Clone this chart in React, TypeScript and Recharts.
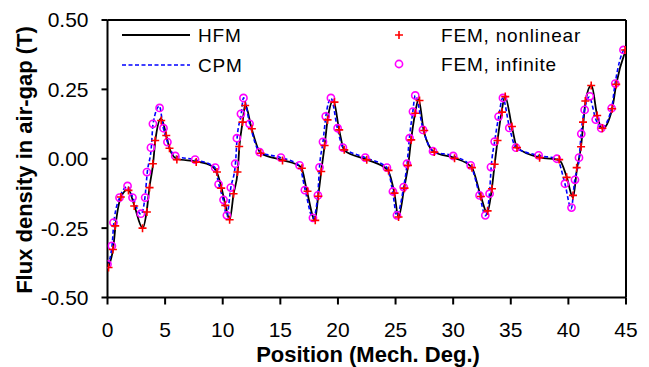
import {
  ComposedChart,
  Line,
  Scatter,
  XAxis,
  YAxis,
  ReferenceLine,
  Legend,
  Label,
} from "recharts";

// HFM curve (solid black)
const hfmX = [
  0, 0.5, 0.7, 1.2, 1.8, 2.3, 3.05, 3.4, 3.65, 3.95, 4.15, 4.65, 5.1, 5.4, 6.0,
  7.7, 9.0, 9.5, 9.9, 10.25, 10.6, 10.95, 11.3, 11.45, 11.72, 11.95, 12.5,
  13.3, 15.2, 16.8, 17.3, 18.0, 18.3, 18.55, 18.85, 19.1, 19.6, 20.1, 20.55,
  22.5, 24.3, 24.9, 25.25, 25.75, 26.1, 26.35, 26.7, 27.0, 27.45, 28.35, 30.1,
  31.6, 32.4, 32.95, 33.35, 33.6, 33.85, 34.2, 34.5, 35.1, 35.55, 37.5, 39.2,
  39.85, 40.4, 40.75, 41.1, 41.3, 41.5, 42.0, 42.5, 42.95, 43.8, 44.15, 45,
];
const hfmY = [
  -0.395, -0.32, -0.24, -0.135, -0.11, -0.165, -0.25, -0.19, -0.1, -0.02,
  0.065, 0.145, 0.085, 0.035, 0.0, -0.01, -0.025, -0.05, -0.105, -0.17, -0.22,
  -0.125, -0.045, 0.045, 0.13, 0.195, 0.11, 0.02, -0.005, -0.03, -0.115, -0.22,
  -0.13, -0.045, 0.05, 0.14, 0.21, 0.105, 0.03, -0.003, -0.04, -0.125, -0.21,
  -0.105, -0.022, 0.068, 0.165, 0.215, 0.1, 0.024, 0.003, -0.03, -0.135,
  -0.195, -0.11, -0.02, 0.066, 0.168, 0.225, 0.115, 0.04, 0.005, -0.004,
  -0.065, -0.14, -0.035, 0.045, 0.13, 0.21, 0.265, 0.155, 0.108, 0.18, 0.268,
  0.395,
];

// CPM curve (dashed blue)
const cpmX = [
  0, 0.4, 0.55, 1.05, 1.75, 2.2, 2.9, 3.25, 3.45, 3.8, 3.95, 4.5, 4.85, 5.2,
  5.9, 7.6, 9.3, 9.65, 10.05, 10.35, 10.7, 11.1, 11.25, 11.6, 11.8, 12.35,
  13.2, 15.05, 16.65, 17.15, 17.85, 18.25, 18.4, 18.7, 18.95, 19.4, 19.95,
  20.45, 22.4, 24.25, 24.75, 25.1, 25.7, 26.0, 26.2, 26.5, 26.7, 27.4, 28.25,
  30.0, 31.5, 32.3, 32.8, 33.15, 33.3, 33.6, 33.95, 34.3, 34.9, 35.45, 37.4,
  39.0, 39.7, 40.25, 40.55, 40.95, 41.1, 41.4, 41.8, 42.4, 42.85, 43.75, 44.05,
  44.85, 45,
];
const cpmY = [
  -0.385, -0.31, -0.23, -0.14, -0.1, -0.14, -0.2, -0.14, -0.05, 0.04, 0.125,
  0.19, 0.11, 0.06, 0.01, -0.004, -0.03, -0.09, -0.15, -0.205, -0.105, -0.02,
  0.075, 0.16, 0.22, 0.125, 0.025, 0.004, -0.024, -0.112, -0.214, -0.13,
  -0.03, 0.06, 0.153, 0.218, 0.11, 0.04, 0.004, -0.032, -0.118, -0.205,
  -0.102, -0.018, 0.074, 0.17, 0.228, 0.104, 0.027, 0.01, -0.025, -0.132,
  -0.205, -0.126, -0.03, 0.062, 0.152, 0.219, 0.11, 0.04, 0.012, 0.0, -0.09,
  -0.18, -0.076, 0.004, 0.09, 0.176, 0.222, 0.14, 0.11, 0.182, 0.27, 0.395,
  0.4,
];

// FEM, nonlinear (red +)
const femNlX = [
  0.09, 0.47, 0.67, 1.16, 1.82, 2.32, 3.04, 3.42, 3.65, 3.94, 4.14, 4.66, 5.1,
  5.38, 6.02, 7.7, 9.5, 9.87, 10.22, 10.6, 10.94, 11.28, 11.43, 11.72, 11.95,
  12.53, 13.3, 15.19, 16.87, 17.36, 18.03, 18.3, 18.55, 18.84, 19.1, 19.7,
  20.11, 20.55, 22.5, 24.39, 24.91, 25.26, 25.78, 26.08, 26.36, 26.71, 27.08,
  27.49, 28.36, 30.12, 31.63, 32.41, 32.99, 33.37, 33.6, 33.85, 34.24, 34.52,
  35.1, 35.54, 37.5, 39.2, 39.85, 40.4, 40.72, 41.1, 41.27, 41.47, 41.98,
  42.5, 42.95, 43.8, 44.15, 44.92,
];
const femNlY = [
  -0.392, -0.327, -0.242, -0.138, -0.114, -0.17, -0.25, -0.192, -0.104,
  -0.018, 0.066, 0.138, 0.084, 0.038, -0.003, -0.012, -0.048, -0.106, -0.168,
  -0.22, -0.126, -0.048, 0.044, 0.132, 0.192, 0.108, 0.02, -0.006, -0.034,
  -0.117, -0.222, -0.135, -0.046, 0.048, 0.14, 0.204, 0.104, 0.032, -0.004,
  -0.042, -0.124, -0.21, -0.106, -0.024, 0.068, 0.164, 0.21, 0.102, 0.024,
  0.002, -0.032, -0.136, -0.188, -0.108, -0.02, 0.066, 0.168, 0.224, 0.116,
  0.04, 0.004, -0.003, -0.067, -0.132, -0.032, 0.043, 0.132, 0.208, 0.264,
  0.156, 0.11, 0.18, 0.268, 0.392,
];

// FEM, infinite (magenta o)
const femInfX = [
  0, 0.38, 0.52, 1.04, 1.74, 2.17, 2.9, 3.27, 3.42, 3.77, 3.94, 4.52, 4.86, 5.2,
  5.88, 7.6, 9.35, 9.64, 10.07, 10.36, 10.7, 11.08, 11.23, 11.58, 11.8, 12.33,
  13.2, 15.05, 16.67, 17.13, 17.83, 18.26, 18.4, 18.7, 18.94, 19.39, 19.97,
  20.43, 22.37, 24.25, 24.77, 25.12, 25.7, 25.99, 26.22, 26.51, 26.71, 27.38,
  28.25, 30.0, 31.52, 32.29, 32.79, 33.16, 33.28, 33.6, 33.94, 34.32, 34.87,
  35.45, 37.42, 39.0, 39.7, 40.27, 40.57, 40.92, 41.12, 41.41, 41.86, 42.37,
  42.85, 43.75, 44.07, 44.78,
];
const femInfY = [
  -0.38, -0.314, -0.23, -0.14, -0.098, -0.14, -0.198, -0.14, -0.048, 0.04,
  0.126, 0.183, 0.11, 0.06, 0.01, -0.003, -0.032, -0.092, -0.148, -0.204,
  -0.104, -0.018, 0.074, 0.162, 0.219, 0.126, 0.024, 0.004, -0.024, -0.113,
  -0.213, -0.132, -0.031, 0.061, 0.153, 0.219, 0.11, 0.04, 0.004, -0.032,
  -0.118, -0.204, -0.102, -0.018, 0.074, 0.17, 0.228, 0.104, 0.027, 0.01,
  -0.024, -0.132, -0.204, -0.126, -0.03, 0.062, 0.152, 0.219, 0.111, 0.04,
  0.012, 0.0, -0.09, -0.176, -0.076, 0.004, 0.09, 0.176, 0.225, 0.141, 0.11,
  0.182, 0.271, 0.392,
];

const xTicks = [0, 5, 10, 15, 20, 25, 30, 35, 40, 45];
const yTicks = [-0.5, -0.25, 0, 0.25, 0.5];

const zip = (xs: number[], ys: number[]) =>
  xs.map((x, i) => ({ x, y: ys[i] }));

const hfm = zip(hfmX, hfmY);
const cpm = zip(cpmX, cpmY);
const femNl = zip(femNlX, femNlY);
const femInf = zip(femInfX, femInfY);

const FONT = "'Liberation Sans', Arial, sans-serif";
const RED = "#FF0000";
const MAGENTA = "#FF00FF";

const Plus = (props: any) => {
  const { cx, cy } = props;
  return (
    <path
      d={`M${cx - 4},${cy}H${cx + 4}M${cx},${cy - 4}V${cy + 4}`}
      stroke={RED}
      strokeWidth={1.6}
      fill="none"
    />
  );
};

const Ring = (props: any) => (
  <circle
    cx={props.cx}
    cy={props.cy}
    r={3.6}
    fill="none"
    stroke={MAGENTA}
    strokeWidth={1.6}
  />
);

const legendText = {
  fontFamily: FONT,
  fontSize: 19,
  letterSpacing: 0.8,
  fill: "#000",
} as const;

const LegendBox = () => (
  <svg width={649} height={80} style={{ display: "block" }}>
    <line x1={122} y1={35} x2={190} y2={35} stroke="#000" strokeWidth={2} />
    <text x={198} y={42} {...legendText}>HFM</text>
    <line
      x1={122}
      y1={65}
      x2={190}
      y2={65}
      stroke="#0000FF"
      strokeWidth={1.6}
      strokeDasharray="4 2.5"
    />
    <text x={198} y={72} {...legendText}>CPM</text>
    <Plus cx={399} cy={35} />
    <text x={441} y={42} {...legendText}>FEM, nonlinear</text>
    <Ring cx={399} cy={64} />
    <text x={441} y={71} {...legendText}>FEM, infinite</text>
  </svg>
);

export default function App() {
  return (
    <div
      style={{
        position: "absolute",
        left: 0,
        top: 0,
        width: 649,
        height: 367,
        background: "#fff",
      }}
    >
      <ComposedChart
        width={649}
        height={367}
        margin={{ top: 20, right: 23, left: 7.5, bottom: 19.5 }}
      >
        <XAxis
          type="number"
          dataKey="x"
          domain={[0, 45]}
          ticks={xTicks}
          allowDataOverflow
          height={50}
          tickSize={7}
          tickMargin={18}
          axisLine={{ stroke: "#000", strokeWidth: 2 }}
          tickLine={{ stroke: "#000", strokeWidth: 2 }}
          tick={{ fill: "#000", fontSize: 21, fontFamily: FONT }}
        >
          <Label
            content={() => (
              <text
                x={368}
                y={362}
                textAnchor="middle"
                fontFamily={FONT}
                fontWeight="bold"
                fontSize={22}
                fill="#000"
              >
                Position (Mech. Deg.)
              </text>
            )}
          />
        </XAxis>
        <YAxis
          type="number"
          dataKey="y"
          domain={[-0.5, 0.5]}
          ticks={yTicks}
          allowDataOverflow
          width={100}
          tickSize={6}
          tickMargin={13}
          tickFormatter={(v: number) => v.toFixed(2)}
          axisLine={{ stroke: "#000", strokeWidth: 2 }}
          tickLine={{ stroke: "#000", strokeWidth: 2 }}
          tick={{ fill: "#000", fontSize: 21, fontFamily: FONT }}
        >
          <Label
            content={() => (
              <text
                transform="translate(31.5,160) rotate(-90)"
                textAnchor="middle"
                fontFamily={FONT}
                fontWeight="bold"
                fontSize={22}
                fill="#000"
              >
                Flux density in air-gap (T)
              </text>
            )}
          />
        </YAxis>
        <ReferenceLine y={0.5} stroke="#000" strokeWidth={2} />
        <ReferenceLine x={45} stroke="#000" strokeWidth={2} />
        <Legend
          layout="vertical"
          align="center"
          verticalAlign="middle"
          wrapperStyle={{ position: "absolute", top: 0, left: 0 }}
          content={() => <LegendBox />}
        />
        <Scatter
          name="FEM, infinite"
          data={femInf}
          dataKey="y"
          shape={<Ring />}
          isAnimationActive={false}
        />
        <Scatter
          name="FEM, nonlinear"
          data={femNl}
          dataKey="y"
          shape={<Plus />}
          isAnimationActive={false}
        />
        <Line
          name="HFM"
          data={hfm}
          dataKey="y"
          type="monotone"
          stroke="#000"
          strokeWidth={1.8}
          dot={false}
          activeDot={false}
          isAnimationActive={false}
        />
        <Line
          name="CPM"
          data={cpm}
          dataKey="y"
          type="monotone"
          stroke="#0000FF"
          strokeWidth={1.6}
          strokeDasharray="4 2.5"
          dot={false}
          activeDot={false}
          isAnimationActive={false}
        />
      </ComposedChart>
    </div>
  );
}
